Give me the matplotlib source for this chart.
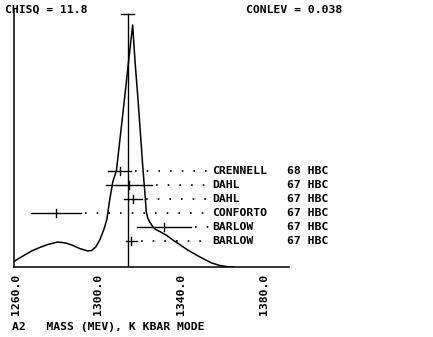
import matplotlib.pyplot as plt

# Fitted mass curve (arbitrary units)
mass = [1259.5, 1261.9, 1264.4, 1267.7, 1271.6, 1275.5, 1280.3, 1284.2, 1287.1,
        1290.9, 1294.8, 1296.7, 1298.7, 1300.6, 1302.5, 1304.0, 1305.4, 1306.9,
        1308.7, 1312.5, 1314.6, 1316.5, 1317.7, 1319.1, 1321.5, 1322.3, 1323.1,
        1323.8, 1324.7, 1326.2, 1327.6, 1329.6, 1333.0, 1335.9, 1339.2, 1343.1,
        1347.3, 1351.3, 1354.7, 1358.6, 1363.4, 1365.3]
curve = [6, 9, 12, 16, 19.5, 22.5, 25, 24, 22,
         18.5, 16, 16.5, 20, 27, 37, 47, 67, 85,
         97, 167, 207, 242, 204, 167, 97, 77, 55,
         49, 45, 40.5, 37.5, 35.5, 31.5, 27, 22.5, 17,
         12, 7.5, 4, 1.5, 0, 0]

# Average mass and its error
fit_mass = 1314.1
fit_err = 3.2

# Individual measurements
authors = ["CRENNELL", "DAHL", "DAHL", "CONFORTO", "BARLOW", "BARLOW"]
years = ["68", "67", "67", "67", "67", "67"]
techn = ["HBC", "HBC", "HBC", "HBC", "HBC", "HBC"]
meas = [1310.2, 1314.8, 1316.6, 1279.6, 1331.7, 1315.9]
errs = [5.5, 11.0, 4.2, 12.0, 13.0, 2.7]

chisq = "11.8"
conlev = "0.038"
ticks = [1260, 1300, 1340, 1380]

font = dict(family="DejaVu Sans Mono", fontweight="bold", fontsize=8.2)

fig = plt.figure(figsize=(4.33, 3.37), dpi=100)
ax = fig.add_axes([14 / 433, 1 - 267 / 337, 275 / 433, 257 / 337])

ax.plot(mass, curve, color="black", lw=1.1)

top = 253
ax.plot([fit_mass, fit_mass], [0, top], color="black", lw=1.0)
ax.plot([fit_mass - fit_err, fit_mass + fit_err], [top, top], color="black", lw=1.0)

label_x = 1354.8
for i, (a, yr, t, m, e) in enumerate(zip(authors, years, techn, meas, errs)):
    yy = 96.3 - 14 * i
    ax.plot([m - e, m + e], [yy, yy], color="black", lw=1.0)
    ax.plot([m, m], [yy - 4, yy + 4], color="black", lw=1.0)
    ax.plot([m + e + 2, label_x - 0.5], [yy, yy], color="black", lw=1.2,
            linestyle=(0, (1, 6)))
    ax.text(label_x, yy, a, va="center", ha="left", clip_on=False, **font)
    ax.text(1390.8, yy, yr + " " + t, va="center", ha="left", clip_on=False, **font)

ax.set_xlim(1259.2, 1392)
ax.set_ylim(0, 257)
ax.spines["top"].set_visible(False)
ax.spines["right"].set_visible(False)
ax.spines["left"].set_linewidth(1.1)
ax.spines["bottom"].set_linewidth(1.1)
ax.set_yticks([])
ax.set_xticks(ticks)
ax.set_xticklabels([f"{t}.0" for t in ticks], rotation=90, **font)
ax.tick_params(axis="x", length=0, pad=5)

fig.text(5 / 433, 1 - 10 / 337, "CHISQ = " + chisq, va="center", ha="left", **font)
fig.text(246 / 433, 1 - 10 / 337, "CONLEV = " + conlev, va="center", ha="left", **font)
fig.text(12 / 433, 1 - 327 / 337, "A2   MASS (MEV), K KBAR MODE", va="center", ha="left", **font)

fig.savefig("out.png", dpi=100)
